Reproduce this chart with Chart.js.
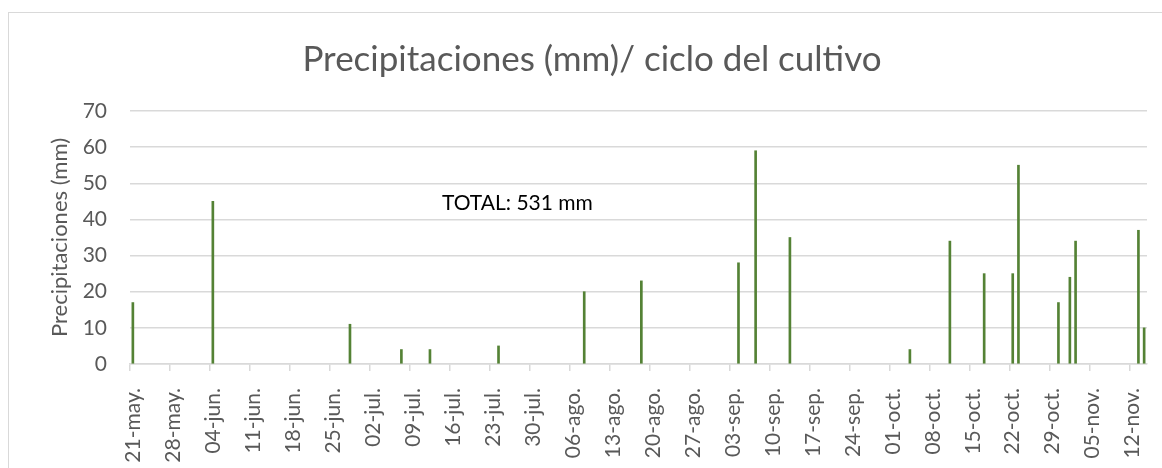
<!DOCTYPE html>
<html>
<head>
<meta charset="utf-8">
<script src="https://cdn.jsdelivr.net/npm/chart.js@4"></script>
<style>
  html, body { margin: 0; padding: 0; background: #ffffff; }
  #wrap { position: relative; width: 1162px; height: 468px; overflow: hidden; }
  #frame { position: absolute; left: 8px; top: 12px; width: 1200px; height: 520px; border: 1px solid #d9d9d9; box-sizing: border-box; }
  #c { position: absolute; left: 0; top: 0; }
</style>
</head>
<body>
<div id="wrap">
  <div id="frame"></div>
  <canvas id="c" width="1162" height="468"></canvas>
</div>
<script>
// ---- data ----
const chartTitle = 'Precipitaciones (mm)/ ciclo del cultivo';
const yAxisTitle = 'Precipitaciones (mm)';
const totalLabel = 'TOTAL: 531 mm';
const firstDay = '2021-05-21';
const lastDay = '2021-11-14';
const monthAbbr = ['ene.', 'feb.', 'mar.', 'abr.', 'may.', 'jun.', 'jul.', 'ago.', 'sep.', 'oct.', 'nov.', 'dic.'];
const rainDates = ['21-may.', '04-jun.', '28-jun.', '07-jul.', '12-jul.', '24-jul.',
                   '08-ago.', '18-ago.', '04-sep.', '07-sep.', '13-sep.',
                   '04-oct.', '11-oct.', '17-oct.', '22-oct.', '23-oct.', '30-oct.',
                   '01-nov.', '02-nov.', '13-nov.', '14-nov.'];
const rainMm = [17, 45, 11, 4, 4, 5,
                20, 23, 28, 59, 35,
                4, 34, 25, 25, 55, 17,
                24, 34, 37, 10];
const yTicks = [0, 10, 20, 30, 40, 50, 60, 70];
const tickEveryDays = 7;

// ---- build daily categories and series (days without rain left empty) ----
function fmt(d) {
  const dd = String(d.getUTCDate()).padStart(2, '0');
  return dd + '-' + monthAbbr[d.getUTCMonth()];
}
const categories = [];
for (let d = new Date(firstDay + 'T00:00:00Z'); d <= new Date(lastDay + 'T00:00:00Z'); d = new Date(d.getTime() + 86400000)) {
  categories.push(fmt(d));
}
const dailyRain = categories.map(c => {
  const k = rainDates.indexOf(c);
  return k >= 0 ? rainMm[k] : null;
});

const FONT = 'Lato, "Open Sans", sans-serif';
const GREY = '#595959';
const GRID = '#d9d9d9';

const textPlugin = {
  id: 'extraText',
  afterDraw(chart, args, opts) {
    const ctx = chart.ctx;
    ctx.save();
    ctx.textBaseline = 'middle';
    ctx.font = '35px ' + FONT;
    ctx.fillStyle = GREY;
    ctx.textAlign = 'center';
    ctx.fillText(chartTitle, opts.titleX, opts.titleY);
    ctx.font = '21px ' + FONT;
    ctx.fillStyle = '#000000';
    ctx.textAlign = 'left';
    ctx.fillText(totalLabel, opts.totalX, opts.totalY);
    ctx.restore();
  }
};

new Chart(document.getElementById('c'), {
  type: 'bar',
  data: {
    labels: categories,
    datasets: [{
      data: dailyRain,
      backgroundColor: '#548235',
      borderWidth: 0,
      barThickness: 2
    }]
  },
  plugins: [textPlugin],
  options: {
    responsive: false,
    animation: false,
    devicePixelRatio: 1,
    layout: { padding: { left: 0, right: 15, top: 111, bottom: 0 } },
    plugins: {
      legend: { display: false },
      tooltip: { enabled: false },
      title: { display: false },
      extraText: { titleX: 592, titleY: 60, totalX: 442, totalY: 203 }
    },
    scales: {
      x: {
        type: 'category',
        offset: true,
        grid: {
          offset: true,
          drawOnChartArea: false,
          drawTicks: true,
          tickLength: 7,
          lineWidth: 1.5,
          color: ctx => (ctx.index % tickEveryDays === 0 && ctx.index < categories.length) ? GRID : 'rgba(0,0,0,0)'
        },
        border: { display: true, color: GRID, width: 1.5 },
        ticks: {
          autoSkip: false,
          minRotation: 90,
          maxRotation: 90,
          padding: 17,
          color: GREY,
          font: { family: FONT, size: 21 },
          callback: (v, i) => (i % tickEveryDays === 0 ? categories[i] : '')
        },
        afterFit: s => { s.height = 104; s.paddingLeft = 0; s.paddingRight = 0; }
      },
      y: {
        min: yTicks[0],
        max: yTicks[yTicks.length - 1],
        grid: { color: GRID, lineWidth: 1.5, drawTicks: false },
        border: { display: false },
        ticks: {
          stepSize: 10,
          padding: 23,
          color: GREY,
          font: { family: FONT, size: 21 }
        },
        title: {
          display: true,
          text: yAxisTitle,
          color: GREY,
          font: { family: FONT, size: 22 },
          padding: { top: 47, bottom: 0 }
        },
        afterFit: s => { s.width = 130; s.paddingTop = 0; s.paddingBottom = 0; }
      }
    }
  }
});
</script>
</body>
</html>
